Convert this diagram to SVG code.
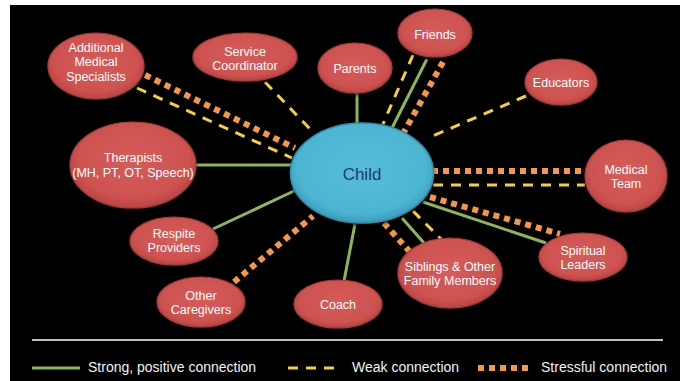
<svg xmlns="http://www.w3.org/2000/svg" width="685" height="381" viewBox="0 0 685 381">
  <defs>
    <radialGradient id="redFill" cx="50%" cy="45%" r="55%">
      <stop offset="0" stop-color="#D65C5A"/>
      <stop offset="0.8" stop-color="#CD5250"/>
      <stop offset="1" stop-color="#B84442"/>
    </radialGradient>
    <radialGradient id="cyanFill" cx="50%" cy="45%" r="55%">
      <stop offset="0" stop-color="#55BCD8"/>
      <stop offset="0.82" stop-color="#4DB5D2"/>
      <stop offset="1" stop-color="#3A9DBA"/>
    </radialGradient>
    <filter id="shadow" x="-20%" y="-20%" width="140%" height="150%">
      <feDropShadow dx="0" dy="2" stdDeviation="1.5" flood-color="#000" flood-opacity="0.7"/>
    </filter>
  </defs>
  <style>
    .node { fill: url(#redFill); stroke: #A53A38; stroke-width: 1.2; filter: url(#shadow); }
    .hub { fill: url(#cyanFill); stroke: #2E8FAC; stroke-width: 1.5; filter: url(#shadow); }
    .lbl { font-family: "Liberation Sans", Arial, sans-serif; font-size: 12.5px; fill: #FFFFFF; text-anchor: middle; }
    .hubLbl { font-family: "Liberation Sans", Arial, sans-serif; font-size: 17px; fill: #1F3B6B; text-anchor: middle; }
    .strong { stroke: #8DB659; stroke-width: 3; fill: none; }
    .weak { stroke: #F6D034; stroke-width: 3; stroke-dasharray: 10 8; fill: none; }
    .stress { stroke: #F79646; stroke-width: 6; stroke-dasharray: 6 5; fill: none; }
    .legend { font-family: "Liberation Sans", Arial, sans-serif; font-size: 14px; fill: #F2F2F2; }
  </style>

  <!-- backdrop -->
  <rect x="0" y="0" width="685" height="381" fill="#FFFFFF"/>
  <rect x="10" y="5" width="670" height="376" fill="#000000"/>

  <!-- connectors -->
  <g id="connectors">
    <line class="stress" x1="145" y1="75" x2="295" y2="148"/>
    <line class="weak" x1="137" y1="88" x2="292" y2="158"/>
    <line class="weak" x1="265" y1="82" x2="312" y2="131"/>
    <line class="strong" x1="196" y1="165" x2="291" y2="165"/>
    <line class="strong" x1="357" y1="93" x2="357" y2="124"/>
    <line class="weak" x1="413" y1="55" x2="383" y2="124"/>
    <line class="strong" x1="427" y1="59" x2="392" y2="128"/>
    <line class="stress" x1="443" y1="62" x2="404" y2="132"/>
    <line class="weak" x1="526" y1="96" x2="428" y2="138"/>
    <line class="stress" x1="432" y1="171" x2="585" y2="171"/>
    <line class="weak" x1="433" y1="185" x2="585" y2="185"/>
    <line class="stress" x1="430" y1="197" x2="560" y2="234"/>
    <line class="strong" x1="423" y1="202" x2="546" y2="243"/>
    <line class="weak" x1="413" y1="211" x2="441" y2="239"/>
    <line class="strong" x1="402" y1="218" x2="424" y2="243"/>
    <line class="stress" x1="384" y1="223" x2="410" y2="252"/>
    <line class="strong" x1="355" y1="224" x2="344" y2="281"/>
    <line class="strong" x1="213" y1="229" x2="296" y2="190"/>
    <line class="stress" x1="234" y1="282" x2="313" y2="216"/>
  </g>

  <!-- nodes -->
  <g id="child">
    <ellipse class="hub" cx="362" cy="173" rx="71.5" ry="50"/>
    <text class="hubLbl" x="362" y="180">Child</text>
  </g>
  <g id="additional-medical-specialists">
    <ellipse class="node" cx="96" cy="66" rx="48" ry="33"/>
    <text class="lbl" x="96" y="52">Additional</text>
    <text class="lbl" x="96" y="66">Medical</text>
    <text class="lbl" x="96" y="81">Specialists</text>
  </g>
  <g id="service-coordinator">
    <ellipse class="node" cx="245" cy="57" rx="52" ry="24"/>
    <text class="lbl" x="245" y="56">Service</text>
    <text class="lbl" x="245" y="70">Coordinator</text>
  </g>
  <g id="parents">
    <ellipse class="node" cx="355" cy="68" rx="37" ry="25"/>
    <text class="lbl" x="355" y="73">Parents</text>
  </g>
  <g id="friends">
    <ellipse class="node" cx="435" cy="33" rx="37" ry="24"/>
    <text class="lbl" x="435" y="39">Friends</text>
  </g>
  <g id="educators">
    <ellipse class="node" cx="561" cy="82" rx="36" ry="23"/>
    <text class="lbl" x="561" y="87">Educators</text>
  </g>
  <g id="medical-team">
    <ellipse class="node" cx="626" cy="176" rx="41" ry="36"/>
    <text class="lbl" x="626" y="174">Medical</text>
    <text class="lbl" x="626" y="188">Team</text>
  </g>
  <g id="therapists">
    <ellipse class="node" cx="133" cy="165" rx="63" ry="43"/>
    <text class="lbl" x="133" y="162">Therapists</text>
    <text class="lbl" x="133" y="177">(MH, PT, OT, Speech)</text>
  </g>
  <g id="respite-providers">
    <ellipse class="node" cx="174" cy="241" rx="44" ry="24"/>
    <text class="lbl" x="174" y="238">Respite</text>
    <text class="lbl" x="174" y="252">Providers</text>
  </g>
  <g id="other-caregivers">
    <ellipse class="node" cx="201" cy="302" rx="44" ry="25"/>
    <text class="lbl" x="201" y="300">Other</text>
    <text class="lbl" x="201" y="314">Caregivers</text>
  </g>
  <g id="coach">
    <ellipse class="node" cx="338" cy="304" rx="44" ry="24"/>
    <text class="lbl" x="338" y="309">Coach</text>
  </g>
  <g id="siblings">
    <ellipse class="node" cx="450" cy="273" rx="52" ry="35"/>
    <text class="lbl" x="450" y="271">Siblings &amp; Other</text>
    <text class="lbl" x="450" y="285">Family Members</text>
  </g>
  <g id="spiritual-leaders">
    <ellipse class="node" cx="583" cy="257" rx="44" ry="24"/>
    <text class="lbl" x="583" y="255">Spiritual</text>
    <text class="lbl" x="583" y="269">Leaders</text>
  </g>

  <!-- legend -->
  <g id="legend">
    <line x1="32" y1="340" x2="663" y2="340" stroke="#FFFFFF" stroke-width="1.5"/>
    <line class="strong" x1="32" y1="368" x2="80" y2="368"/>
    <text class="legend" x="88" y="372">Strong, positive connection</text>
    <line class="weak" x1="288" y1="368" x2="337" y2="368"/>
    <text class="legend" x="352" y="372">Weak connection</text>
    <line class="stress" x1="478" y1="368" x2="532" y2="368"/>
    <text class="legend" x="541" y="372">Stressful connection</text>
  </g>
</svg>
